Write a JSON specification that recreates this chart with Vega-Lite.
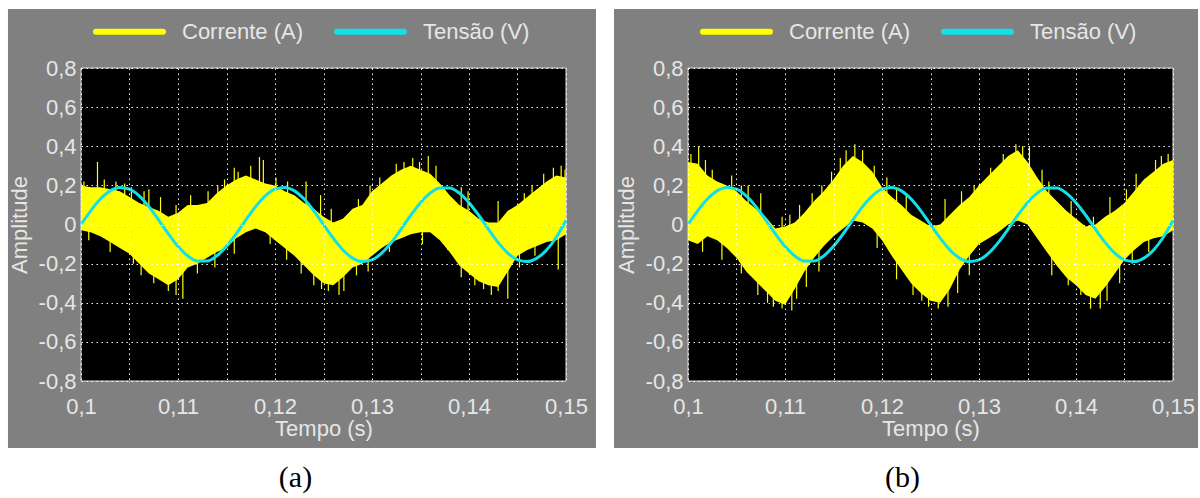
{
  "$schema": "https://vega.github.io/schema/vega-lite/v6.json",
  "background": "white",
  "padding": {"left": 7, "top": 8, "right": 0, "bottom": 0},
  "spacing": 17,
  "config": {
    "font": "Liberation Sans",
    "view": {"stroke": null},
    "axis": {
      "labelFont": "Liberation Sans", "labelFontSize": 22, "labelColor": "#e6e6e6",
      "titleFont": "Liberation Sans", "titleFontSize": 22, "titleColor": "#e6e6e6", "titleFontWeight": "normal",
      "domain": false, "ticks": false, "labelFlush": false, "labelOverlap": false,
      "gridColor": "#ffffff", "gridDash": [1.5, 3.5], "gridOpacity": 0.95, "gridWidth": 1
    },
    "axisX": {"labelPadding": 15, "titlePadding": 1, "labelAngle": 0},
    "axisY": {"labelPadding": 5, "titlePadding": 7},
    "title": {"font": "Liberation Serif", "fontSize": 30, "fontWeight": "normal", "color": "#000000", "orient": "bottom", "offset": 15, "dx": -28, "anchor": "middle"}
  },
  "resolve": {"legend": {"color": "independent"}},
  "datasets": {
    "tensao": [
      {"t":0.100,"y":0},{"t":0.101,"y":0.0699},{"t":0.102,"y":0.1301},{"t":0.103,"y":0.1719},{"t":0.104,"y":0.1896},
      {"t":0.105,"y":0.1807},{"t":0.106,"y":0.1464},{"t":0.107,"y":0.0915},{"t":0.108,"y":0.0238},{"t":0.109,"y":-0.0473},
      {"t":0.110,"y":-0.1117},{"t":0.111,"y":-0.1604},{"t":0.112,"y":-0.1866},{"t":0.113,"y":-0.1866},{"t":0.114,"y":-0.1604},
      {"t":0.115,"y":-0.1117},{"t":0.116,"y":-0.0473},{"t":0.117,"y":0.0238},{"t":0.118,"y":0.0915},{"t":0.119,"y":0.1464},
      {"t":0.120,"y":0.1807},{"t":0.121,"y":0.1896},{"t":0.122,"y":0.1719},{"t":0.123,"y":0.1301},{"t":0.124,"y":0.0699},
      {"t":0.125,"y":0},{"t":0.126,"y":-0.0699},{"t":0.127,"y":-0.1301},{"t":0.128,"y":-0.1719},{"t":0.129,"y":-0.1896},
      {"t":0.130,"y":-0.1807},{"t":0.131,"y":-0.1464},{"t":0.132,"y":-0.0915},{"t":0.133,"y":-0.0238},{"t":0.134,"y":0.0473},
      {"t":0.135,"y":0.1117},{"t":0.136,"y":0.1604},{"t":0.137,"y":0.1866},{"t":0.138,"y":0.1866},{"t":0.139,"y":0.1604},
      {"t":0.140,"y":0.1117},{"t":0.141,"y":0.0473},{"t":0.142,"y":-0.0238},{"t":0.143,"y":-0.0915},{"t":0.144,"y":-0.1464},
      {"t":0.145,"y":-0.1807},{"t":0.146,"y":-0.1896},{"t":0.147,"y":-0.1719},{"t":0.148,"y":-0.1301},{"t":0.149,"y":-0.0650},
      {"t":0.150,"y":0.02}
    ],
    "curA": [
      {"t":0.100,"y":0.20,"y2":-0.03},{"t":0.101,"y":0.19,"y2":-0.04},{"t":0.102,"y":0.19,"y2":-0.06},
      {"t":0.103,"y":0.18,"y2":-0.09},{"t":0.104,"y":0.17,"y2":-0.12},{"t":0.105,"y":0.14,"y2":-0.15},
      {"t":0.106,"y":0.11,"y2":-0.20},{"t":0.107,"y":0.09,"y2":-0.25},{"t":0.108,"y":0.07,"y2":-0.28},
      {"t":0.109,"y":0.04,"y2":-0.31},{"t":0.110,"y":0.06,"y2":-0.28},{"t":0.111,"y":0.10,"y2":-0.22},
      {"t":0.112,"y":0.10,"y2":-0.20},{"t":0.113,"y":0.11,"y2":-0.17},{"t":0.114,"y":0.16,"y2":-0.14},
      {"t":0.115,"y":0.20,"y2":-0.12},{"t":0.116,"y":0.23,"y2":-0.07},{"t":0.117,"y":0.25,"y2":-0.04},
      {"t":0.118,"y":0.23,"y2":-0.02},{"t":0.119,"y":0.21,"y2":-0.04},{"t":0.120,"y":0.20,"y2":-0.08},
      {"t":0.121,"y":0.17,"y2":-0.12},{"t":0.122,"y":0.15,"y2":-0.16},{"t":0.123,"y":0.11,"y2":-0.21},
      {"t":0.124,"y":0.08,"y2":-0.26},{"t":0.125,"y":0.04,"y2":-0.30},{"t":0.126,"y":0.01,"y2":-0.31},
      {"t":0.127,"y":0.03,"y2":-0.27},{"t":0.128,"y":0.08,"y2":-0.22},{"t":0.129,"y":0.10,"y2":-0.20},
      {"t":0.130,"y":0.17,"y2":-0.16},{"t":0.131,"y":0.21,"y2":-0.12},{"t":0.132,"y":0.25,"y2":-0.09},
      {"t":0.133,"y":0.28,"y2":-0.07},{"t":0.134,"y":0.30,"y2":-0.05},{"t":0.135,"y":0.28,"y2":-0.04},
      {"t":0.136,"y":0.26,"y2":-0.04},{"t":0.137,"y":0.21,"y2":-0.08},{"t":0.138,"y":0.15,"y2":-0.14},
      {"t":0.139,"y":0.10,"y2":-0.21},{"t":0.140,"y":0.07,"y2":-0.25},{"t":0.141,"y":0.03,"y2":-0.29},
      {"t":0.142,"y":0.01,"y2":-0.31},{"t":0.143,"y":0.01,"y2":-0.32},{"t":0.144,"y":0.07,"y2":-0.24},
      {"t":0.145,"y":0.10,"y2":-0.16},{"t":0.146,"y":0.14,"y2":-0.13},{"t":0.147,"y":0.18,"y2":-0.11},
      {"t":0.148,"y":0.22,"y2":-0.09},{"t":0.149,"y":0.25,"y2":-0.08},{"t":0.150,"y":0.24,"y2":-0.05}
    ],
    "spkA": [
      {"t":0.1017,"y":0.10,"y2":0.32},{"t":0.1024,"y":0.10,"y2":0.23},{"t":0.1045,"y":0.05,"y2":0.21},
      {"t":0.1065,"y":0.00,"y2":0.17},{"t":0.1070,"y":0.00,"y2":0.18},{"t":0.1082,"y":0.00,"y2":0.14},
      {"t":0.1098,"y":-0.05,"y2":0.10},{"t":0.1131,"y":0.00,"y2":0.17},{"t":0.1148,"y":0.05,"y2":0.23},
      {"t":0.1158,"y":0.05,"y2":0.29},{"t":0.1162,"y":0.05,"y2":0.27},{"t":0.1175,"y":0.10,"y2":0.30},
      {"t":0.1184,"y":0.10,"y2":0.345},{"t":0.1188,"y":0.10,"y2":0.33},{"t":0.1213,"y":0.05,"y2":0.22},
      {"t":0.1232,"y":0.00,"y2":0.22},{"t":0.1247,"y":-0.05,"y2":0.15},{"t":0.1286,"y":0.00,"y2":0.13},
      {"t":0.1298,"y":0.00,"y2":0.20},{"t":0.1333,"y":0.10,"y2":0.32},{"t":0.1342,"y":0.10,"y2":0.34},
      {"t":0.1349,"y":0.10,"y2":0.32},{"t":0.1358,"y":0.10,"y2":0.35},{"t":0.1366,"y":0.05,"y2":0.30},
      {"t":0.1399,"y":-0.05,"y2":0.17},{"t":0.1430,"y":-0.05,"y2":0.12},{"t":0.1465,"y":0.00,"y2":0.20},
      {"t":0.1487,"y":0.05,"y2":0.29},{"t":0.1495,"y":0.05,"y2":0.30},{"t":0.1499,"y":0.05,"y2":0.28},
      {"t":0.1003,"y":0.10,"y2":0.22},{"t":0.1036,"y":0.05,"y2":0.22},{"t":0.1052,"y":0.00,"y2":0.19},
      {"t":0.1113,"y":0.00,"y2":0.15},{"t":0.1141,"y":0.05,"y2":0.20},{"t":0.1201,"y":0.05,"y2":0.24},
      {"t":0.1258,"y":-0.05,"y2":0.08},{"t":0.1308,"y":0.05,"y2":0.24},{"t":0.1325,"y":0.10,"y2":0.31},
      {"t":0.1392,"y":0.00,"y2":0.19},{"t":0.1457,"y":0.00,"y2":0.16},{"t":0.1477,"y":0.05,"y2":0.26},
      {"t":0.1008,"y":0.05,"y2":-0.08},{"t":0.1054,"y":-0.05,"y2":-0.20},{"t":0.1075,"y":-0.10,"y2":-0.30},
      {"t":0.1090,"y":-0.15,"y2":-0.34},{"t":0.1105,"y":-0.10,"y2":-0.38},{"t":0.1120,"y":-0.05,"y2":-0.25},
      {"t":0.1158,"y":0.00,"y2":-0.15},{"t":0.1195,"y":0.00,"y2":-0.10},{"t":0.1227,"y":-0.05,"y2":-0.25},
      {"t":0.1240,"y":-0.10,"y2":-0.31},{"t":0.1255,"y":-0.10,"y2":-0.34},{"t":0.1266,"y":-0.10,"y2":-0.36},
      {"t":0.1271,"y":-0.10,"y2":-0.34},{"t":0.1284,"y":-0.05,"y2":-0.26},{"t":0.1318,"y":0.00,"y2":-0.14},
      {"t":0.1378,"y":0.00,"y2":-0.13},{"t":0.1415,"y":-0.10,"y2":-0.33},{"t":0.1423,"y":-0.10,"y2":-0.36},
      {"t":0.1430,"y":-0.10,"y2":-0.34},{"t":0.1440,"y":-0.10,"y2":-0.38},{"t":0.1468,"y":-0.05,"y2":-0.16},
      {"t":0.1492,"y":0.00,"y2":-0.23},
      {"t":0.1030,"y":-0.05,"y2":-0.14},{"t":0.1062,"y":-0.10,"y2":-0.26},{"t":0.1098,"y":-0.15,"y2":-0.36},
      {"t":0.1138,"y":-0.05,"y2":-0.22},{"t":0.1212,"y":-0.05,"y2":-0.18},{"t":0.1248,"y":-0.10,"y2":-0.33},
      {"t":0.1296,"y":-0.05,"y2":-0.24},{"t":0.1352,"y":0.00,"y2":-0.10},{"t":0.1392,"y":-0.10,"y2":-0.27},
      {"t":0.1406,"y":-0.10,"y2":-0.31},{"t":0.1452,"y":-0.05,"y2":-0.22}
    ],
    "curB": [
      {"t":0.100,"y":0.32,"y2":-0.08},{"t":0.101,"y":0.31,"y2":-0.10},{"t":0.102,"y":0.25,"y2":-0.06},
      {"t":0.103,"y":0.22,"y2":-0.08},{"t":0.104,"y":0.20,"y2":-0.12},{"t":0.105,"y":0.17,"y2":-0.17},
      {"t":0.106,"y":0.12,"y2":-0.24},{"t":0.107,"y":0.08,"y2":-0.29},{"t":0.108,"y":0.04,"y2":-0.34},
      {"t":0.109,"y":-0.02,"y2":-0.39},{"t":0.110,"y":-0.01,"y2":-0.41},{"t":0.111,"y":0.01,"y2":-0.33},
      {"t":0.112,"y":0.06,"y2":-0.24},{"t":0.113,"y":0.12,"y2":-0.17},{"t":0.114,"y":0.17,"y2":-0.11},
      {"t":0.115,"y":0.23,"y2":-0.06},{"t":0.116,"y":0.30,"y2":-0.02},{"t":0.117,"y":0.35,"y2":0.02},
      {"t":0.118,"y":0.32,"y2":0.01},{"t":0.119,"y":0.27,"y2":-0.02},{"t":0.120,"y":0.19,"y2":-0.08},
      {"t":0.121,"y":0.14,"y2":-0.16},{"t":0.122,"y":0.10,"y2":-0.23},{"t":0.123,"y":0.05,"y2":-0.30},
      {"t":0.124,"y":0.02,"y2":-0.35},{"t":0.125,"y":-0.01,"y2":-0.39},{"t":0.126,"y":0.00,"y2":-0.40},
      {"t":0.127,"y":0.05,"y2":-0.33},{"t":0.128,"y":0.10,"y2":-0.23},{"t":0.129,"y":0.14,"y2":-0.16},
      {"t":0.130,"y":0.20,"y2":-0.10},{"t":0.131,"y":0.25,"y2":-0.07},{"t":0.132,"y":0.30,"y2":-0.04},
      {"t":0.133,"y":0.35,"y2":0.00},{"t":0.134,"y":0.38,"y2":0.02},{"t":0.135,"y":0.32,"y2":0.00},
      {"t":0.136,"y":0.24,"y2":-0.07},{"t":0.137,"y":0.17,"y2":-0.14},{"t":0.138,"y":0.12,"y2":-0.21},
      {"t":0.139,"y":0.07,"y2":-0.27},{"t":0.140,"y":0.03,"y2":-0.31},{"t":0.141,"y":-0.01,"y2":-0.36},
      {"t":0.142,"y":0.00,"y2":-0.38},{"t":0.143,"y":0.04,"y2":-0.32},{"t":0.144,"y":0.07,"y2":-0.25},
      {"t":0.145,"y":0.11,"y2":-0.18},{"t":0.146,"y":0.17,"y2":-0.13},{"t":0.147,"y":0.23,"y2":-0.09},
      {"t":0.148,"y":0.27,"y2":-0.07},{"t":0.149,"y":0.31,"y2":-0.06},{"t":0.150,"y":0.33,"y2":-0.03}
    ],
    "spkB": [
      {"t":0.1003,"y":0.20,"y2":0.36},{"t":0.1011,"y":0.20,"y2":0.40},{"t":0.1018,"y":0.15,"y2":0.33},
      {"t":0.1045,"y":0.05,"y2":0.25},{"t":0.1062,"y":0.00,"y2":0.20},{"t":0.1075,"y":0.00,"y2":0.16},
      {"t":0.1097,"y":-0.10,"y2":0.04},{"t":0.1115,"y":-0.05,"y2":0.10},{"t":0.1128,"y":0.00,"y2":0.16},
      {"t":0.1148,"y":0.10,"y2":0.27},{"t":0.1163,"y":0.15,"y2":0.38},{"t":0.1172,"y":0.20,"y2":0.41},
      {"t":0.1180,"y":0.20,"y2":0.38},{"t":0.1205,"y":0.05,"y2":0.24},{"t":0.1225,"y":0.00,"y2":0.15},
      {"t":0.1265,"y":-0.05,"y2":0.13},{"t":0.1295,"y":0.05,"y2":0.20},{"t":0.1325,"y":0.15,"y2":0.36},
      {"t":0.1338,"y":0.20,"y2":0.41},{"t":0.1345,"y":0.20,"y2":0.40},{"t":0.1352,"y":0.20,"y2":0.40},
      {"t":0.1365,"y":0.10,"y2":0.28},{"t":0.1395,"y":-0.05,"y2":0.12},{"t":0.1435,"y":-0.05,"y2":0.14},
      {"t":0.1462,"y":0.05,"y2":0.26},{"t":0.1482,"y":0.10,"y2":0.33},{"t":0.1495,"y":0.10,"y2":0.36},
      {"t":0.1025,"y":0.10,"y2":0.28},{"t":0.1055,"y":0.00,"y2":0.20},{"t":0.1105,"y":-0.05,"y2":0.05},
      {"t":0.1138,"y":0.05,"y2":0.20},{"t":0.1157,"y":0.10,"y2":0.34},{"t":0.1192,"y":0.10,"y2":0.30},
      {"t":0.1215,"y":0.00,"y2":0.18},{"t":0.1282,"y":0.00,"y2":0.17},{"t":0.1312,"y":0.10,"y2":0.29},
      {"t":0.1372,"y":0.00,"y2":0.22},{"t":0.1418,"y":-0.05,"y2":0.04},{"t":0.1452,"y":0.00,"y2":0.18},
      {"t":0.1488,"y":0.10,"y2":0.35},
      {"t":0.1035,"y":-0.05,"y2":-0.18},{"t":0.1072,"y":-0.15,"y2":-0.36},{"t":0.1088,"y":-0.20,"y2":-0.42},
      {"t":0.1097,"y":-0.20,"y2":-0.43},{"t":0.1107,"y":-0.20,"y2":-0.44},{"t":0.1112,"y":-0.20,"y2":-0.38},
      {"t":0.1135,"y":-0.05,"y2":-0.24},{"t":0.1195,"y":0.00,"y2":-0.12},{"t":0.1232,"y":-0.15,"y2":-0.36},
      {"t":0.1248,"y":-0.20,"y2":-0.42},{"t":0.1258,"y":-0.20,"y2":-0.43},{"t":0.1268,"y":-0.20,"y2":-0.42},
      {"t":0.1290,"y":-0.10,"y2":-0.26},{"t":0.1375,"y":-0.10,"y2":-0.26},{"t":0.1405,"y":-0.15,"y2":-0.36},
      {"t":0.1415,"y":-0.20,"y2":-0.43},{"t":0.1425,"y":-0.20,"y2":-0.43},{"t":0.1445,"y":-0.10,"y2":-0.30},
      {"t":0.1475,"y":-0.05,"y2":-0.14},
      {"t":0.1015,"y":0.00,"y2":-0.14},{"t":0.1055,"y":-0.10,"y2":-0.25},{"t":0.1082,"y":-0.20,"y2":-0.40},
      {"t":0.1122,"y":-0.10,"y2":-0.32},{"t":0.1215,"y":-0.10,"y2":-0.28},{"t":0.1241,"y":-0.20,"y2":-0.39},
      {"t":0.1278,"y":-0.10,"y2":-0.35},{"t":0.1392,"y":-0.10,"y2":-0.31},{"t":0.1432,"y":-0.15,"y2":-0.39},
      {"t":0.1458,"y":-0.05,"y2":-0.20}
    ]
  },
  "hconcat": [
    {
      "width": 485, "height": 313,
      "title": {"text": "(a)"},
      "encoding": {
        "x": {"field": "t", "type": "quantitative", "title": "Tempo (s)", "scale": {"domain": [0.1, 0.15], "nice": false, "zero": false},
              "axis": {"zindex": 1, "values": [0.1,0.105,0.11,0.115,0.12,0.125,0.13,0.135,0.14,0.145,0.15], "labelExpr": "round(datum.value*1000)%10==5 ? '' : replace(format(datum.value, '.2~f'), '.', ',')"}},
        "y": {"field": "y", "type": "quantitative", "title": "Amplitude", "scale": {"domain": [-0.8, 0.8], "nice": false, "zero": false},
              "axis": {"zindex": 1, "values": [-0.8,-0.6,-0.4,-0.2,0,0.2,0.4,0.6,0.8], "labelExpr": "(datum.value < -0.01 ? '-' : '') + replace(format(abs(datum.value), '.1~f'), '.', ',')"}}
      },
      "layer": [
        {
          "data": {"values": [{"t": 0.09247, "t2": 0.15309, "y": -1.1425, "y2": 1.1016}]},
          "mark": {"type": "rect", "fill": "#808080"},
          "encoding": {"x2": {"field": "t2"}, "y2": {"field": "y2"}}
        },
        {
          "data": {"values": [{"t": 0.1, "t2": 0.15, "y": -0.8, "y2": 0.8}]},
          "mark": {"type": "rect", "fill": "#000000", "stroke": "#e0e0e0", "strokeWidth": 1},
          "encoding": {"x2": {"field": "t2"}, "y2": {"field": "y2"}}
        },
        {
          "data": {"name": "curA"},
          "mark": {"type": "area", "interpolate": "linear", "opacity": 1},
          "encoding": {
            "y2": {"field": "y2"},
            "color": {"datum": "Corrente (A)", "scale": {"domain": ["Corrente (A)", "Tensão (V)"], "range": ["#ffff00", "#12e0e8"]}}
          }
        },
        {
          "data": {"name": "spkA"},
          "mark": {"type": "rule", "strokeWidth": 1.2},
          "encoding": {"y2": {"field": "y2"}, "color": {"datum": "Corrente (A)"}}
        },
        {
          "data": {"name": "tensao"},
          "mark": {"type": "line", "strokeWidth": 3, "interpolate": "monotone"},
          "encoding": {
            "color": {"datum": "Tensão (V)",
              "legend": {"orient": "none", "legendX": 12, "legendY": -51, "direction": "horizontal", "title": null,
                "symbolType": "M-3,0H3", "symbolSize": 499, "symbolStrokeWidth": 6, "symbolOffset": 22, "labelFontSize": 22, "labelColor": "#e6e6e6",
                "labelFont": "Liberation Sans", "labelOffset": 38, "columnPadding": 20, "padding": 0, "labelLimit": 300,
                "encode": {"symbols": {"update": {"stroke": {"signal": "datum.value === 'Corrente (A)' ? '#ffff00' : '#7ff5f8'"}, "fill": {"value": "transparent"}, "strokeCap": {"value": "round"}, "opacity": {"value": 1}}}}}}
          }
        }
      ]
    },
    {
      "width": 485, "height": 313,
      "title": {"text": "(b)"},
      "encoding": {
        "x": {"field": "t", "type": "quantitative", "title": "Tempo (s)", "scale": {"domain": [0.1, 0.15], "nice": false, "zero": false},
              "axis": {"zindex": 1, "values": [0.1,0.105,0.11,0.115,0.12,0.125,0.13,0.135,0.14,0.145,0.15], "labelExpr": "round(datum.value*1000)%10==5 ? '' : replace(format(datum.value, '.2~f'), '.', ',')"}},
        "y": {"field": "y", "type": "quantitative", "title": "Amplitude", "scale": {"domain": [-0.8, 0.8], "nice": false, "zero": false},
              "axis": {"zindex": 1, "values": [-0.8,-0.6,-0.4,-0.2,0,0.2,0.4,0.6,0.8], "labelExpr": "(datum.value < -0.01 ? '-' : '') + replace(format(abs(datum.value), '.1~f'), '.', ',')"}}
      },
      "layer": [
        {
          "data": {"values": [{"t": 0.09237, "t2": 0.15258, "y": -1.1425, "y2": 1.1016}]},
          "mark": {"type": "rect", "fill": "#808080"},
          "encoding": {"x2": {"field": "t2"}, "y2": {"field": "y2"}}
        },
        {
          "data": {"values": [{"t": 0.1, "t2": 0.15, "y": -0.8, "y2": 0.8}]},
          "mark": {"type": "rect", "fill": "#000000", "stroke": "#e0e0e0", "strokeWidth": 1},
          "encoding": {"x2": {"field": "t2"}, "y2": {"field": "y2"}}
        },
        {
          "data": {"name": "curB"},
          "mark": {"type": "area", "interpolate": "linear", "opacity": 1},
          "encoding": {
            "y2": {"field": "y2"},
            "color": {"datum": "Corrente (A)", "scale": {"domain": ["Corrente (A)", "Tensão (V)"], "range": ["#ffff00", "#12e0e8"]}}
          }
        },
        {
          "data": {"name": "spkB"},
          "mark": {"type": "rule", "strokeWidth": 1.2},
          "encoding": {"y2": {"field": "y2"}, "color": {"datum": "Corrente (A)"}}
        },
        {
          "data": {"name": "tensao"},
          "mark": {"type": "line", "strokeWidth": 3, "interpolate": "monotone"},
          "encoding": {
            "color": {"datum": "Tensão (V)",
              "legend": {"orient": "none", "legendX": 12, "legendY": -51, "direction": "horizontal", "title": null,
                "symbolType": "M-3,0H3", "symbolSize": 499, "symbolStrokeWidth": 6, "symbolOffset": 22, "labelFontSize": 22, "labelColor": "#e6e6e6",
                "labelFont": "Liberation Sans", "labelOffset": 38, "columnPadding": 20, "padding": 0, "labelLimit": 300,
                "encode": {"symbols": {"update": {"stroke": {"signal": "datum.value === 'Corrente (A)' ? '#ffff00' : '#7ff5f8'"}, "fill": {"value": "transparent"}, "strokeCap": {"value": "round"}, "opacity": {"value": 1}}}}}}
          }
        }
      ]
    }
  ]
}
